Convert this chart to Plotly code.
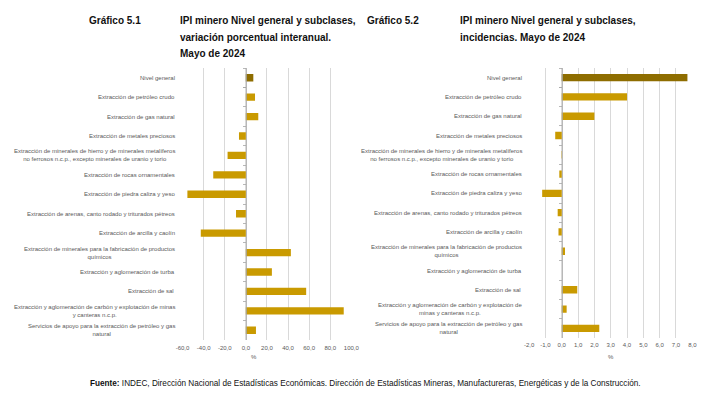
import plotly.graph_objects as go

W, H = 715, 396

categories = [
    "Nivel general",
    "Extracción de petróleo crudo",
    "Extracción de gas natural",
    "Extracción de metales preciosos",
    "Extracción de minerales de hierro y de minerales metalíferos no ferrosos n.c.p., excepto minerales de uranio y torio",
    "Extracción de rocas ornamentales",
    "Extracción de piedra caliza y yeso",
    "Extracción de arenas, canto rodado y triturados pétreos",
    "Extracción de arcilla y caolín",
    "Extracción de minerales para la fabricación de productos químicos",
    "Extracción y aglomeración de turba",
    "Extracción de sal",
    "Extracción y aglomeración de carbón y explotación de minas y canteras n.c.p.",
    "Servicios de apoyo para la extracción de petróleo y gas natural",
]

labels_left = [
    "Nivel general",
    "Extracción de petróleo crudo",
    "Extracción de gas natural",
    "Extracción de metales preciosos",
    "Extracción de minerales de hierro y de minerales metalíferos<br>no ferrosos n.c.p., excepto minerales de uranio y torio",
    "Extracción de rocas ornamentales",
    "Extracción de piedra caliza y yeso",
    "Extracción de arenas, canto rodado y triturados pétreos",
    "Extracción de arcilla y caolín",
    "Extracción de minerales para la fabricación de productos<br>químicos",
    "Extracción y aglomeración de turba",
    "Extracción de sal ",
    "Extracción y aglomeración de carbón y explotación de minas<br>y canteras n.c.p.",
    "Servicios de apoyo para la extracción de petróleo y gas<br>natural",
]

labels_right = [
    "Nivel general",
    "Extracción de petróleo crudo",
    "Extracción de gas natural",
    "Extracción de metales preciosos",
    "Extracción de minerales de hierro y de minerales metalíferos<br>no ferrosos n.c.p., excepto minerales de uranio y torio",
    "Extracción de rocas ornamentales",
    "Extracción de piedra caliza y yeso",
    "Extracción de arenas, canto rodado y triturados pétreos",
    "Extracción de arcilla y caolín",
    "Extracción de minerales para la fabricación de productos<br>químicos",
    "Extracción y aglomeración de turba",
    "Extracción de sal ",
    "Extracción y aglomeración de carbón y explotación de<br>minas y canteras n.c.p.",
    "Servicios de apoyo para la extracción de petróleo y gas<br>natural",
]

var_interanual = [7.1, 8.7, 11.8, -6.5, -17.3, -30.9, -55.4, -9.3, -42.7, 42.7, 24.7, 57.2, 92.8, 9.6]
incidencias = [7.7, 4.0, 2.0, -0.4, -0.02, -0.15, -1.2, -0.25, -0.2, 0.2, 0.0, 0.95, 0.3, 2.3]

left_ticks = [-60, -40, -20, 0, 20, 40, 60, 80, 100]
left_ticktext = ["-60,0", "-40,0", "-20,0", "0,0", "20,0", "40,0", "60,0", "80,0", "100,0"]
right_ticks = [-2, -1, 0, 1, 2, 3, 4, 5, 6, 7, 8]
right_ticktext = ["-2,0", "-1,0", "0,0", "1,0", "2,0", "3,0", "4,0", "5,0", "6,0", "7,0", "8,0"]

GOLD = "#C99A00"
DARK = "#8E6D00"
colors = [DARK] + [GOLD] * (len(categories) - 1)

FONT = "Liberation Sans, Arial, sans-serif"
TFONT = "Liberation Sans, Arial, sans-serif"
TXT = "#595959"

def px(x):
    return x / W

def py(y):
    return 1 - y / H

fig = go.Figure()
fig.add_trace(go.Bar(y=categories, x=var_interanual, orientation="h",
                     marker=dict(color=colors, line=dict(width=0)),
                     xaxis="x", yaxis="y", showlegend=False))
fig.add_trace(go.Bar(y=categories, x=incidencias, orientation="h",
                     marker=dict(color=colors, line=dict(width=0)),
                     xaxis="x2", yaxis="y2", showlegend=False))

xl0, xl1 = 179.3, 351.7
xr0, xr1 = 533.3, 700.0
left_zero = xl0 + (0 - (-60)) / 160 * (xl1 - xl0)
right_zero = xr0 + (0 - (-2)) / 10 * (xr1 - xr0)

common_x = dict(showgrid=True, gridcolor="#d9d9d9", gridwidth=1, zeroline=False,
                showline=False, ticks="", tickfont=dict(family=FONT, size=6, color=TXT),
                tickmode="array", fixedrange=True)
common_y = dict(type="category", categoryorder="array", categoryarray=categories,
                autorange="reversed", showgrid=False, zeroline=False,
                showline=True, linecolor="#a6a6a6", linewidth=0.8,
                ticks="outside", tickson="boundaries", ticklen=3, tickcolor="#a6a6a6",
                tickwidth=0.8, showticklabels=False, anchor="free")

fig.update_layout(
    width=W, height=H, margin=dict(l=0, r=0, t=0, b=0),
    paper_bgcolor="white", plot_bgcolor="white",
    bargap=0.62,
    xaxis=dict(domain=[px(xl0), px(xl1)], range=[-60, 100], tickvals=left_ticks,
               ticktext=left_ticktext, anchor="y", ticklabelstandoff=3, **common_x),
    yaxis=dict(domain=[py(340), py(68)], position=px(left_zero), **common_y),
    xaxis2=dict(domain=[px(xr0), px(xr1)], range=[-2, 8], tickvals=right_ticks,
                ticktext=right_ticktext, anchor="y2", ticklabelstandoff=2, **common_x),
    yaxis2=dict(domain=[py(338), py(68)], position=px(right_zero), **common_y),
)

ann = []
for cat, lab in zip(categories, labels_left):
    ann.append(dict(x=px(173.5), y=cat, xref="paper", yref="y", text=lab,
                    xanchor="right", yanchor="middle", align="center", showarrow=False,
                    font=dict(family=FONT, size=6, color=TXT)))
for cat, lab in zip(categories, labels_right):
    ann.append(dict(x=px(527.7), y=cat, xref="paper", yref="y2", text=lab,
                    xanchor="right", yanchor="middle", align="center", showarrow=False,
                    font=dict(family=FONT, size=6, color=TXT)))

ann.append(dict(x=px(252.3), y=py(356.5), xref="paper", yref="paper", text="%",
                xanchor="center", yanchor="middle", showarrow=False,
                font=dict(family=FONT, size=6, color=TXT)))
ann.append(dict(x=px(616.7), y=py(356.5), xref="paper", yref="paper", text="%",
                xanchor="center", yanchor="middle", showarrow=False,
                font=dict(family=FONT, size=6, color=TXT)))

tfont = dict(family=TFONT, size=10, color="#111111", weight="bold")
titles = [
    (81.7, 21, "Gráfico 5.1"),
    (175, 21, "IPI minero Nivel general y subclases,"),
    (175, 37.5, "variación porcentual interanual."),
    (175, 53.5, "Mayo de 2024"),
    (366, 21, "Gráfico 5.2"),
    (461, 21, "IPI minero Nivel general y subclases,"),
    (461, 37.5, "incidencias. Mayo de 2024"),
]
for x, y, t in titles:
    ann.append(dict(x=px(x), y=py(y), xref="paper", yref="paper", text=t,
                    xanchor="left", yanchor="middle", showarrow=False, font=tfont))

ann.append(dict(x=px(83), y=py(383), xref="paper", yref="paper",
                text="<b>Fuente:</b> INDEC, Dirección Nacional de Estadísticas Económicas. "
                     "Dirección de Estadísticas Mineras, Manufactureras, Energéticas y de la Construcción.",
                xanchor="left", yanchor="middle", showarrow=False,
                font=dict(family=FONT, size=8.2, color="#111111")))

fig.update_layout(annotations=ann)
fig.write_html("out.html", config={"displayModeBar": False, "staticPlot": True},
               post_script="document.body.style.margin='0px';")
